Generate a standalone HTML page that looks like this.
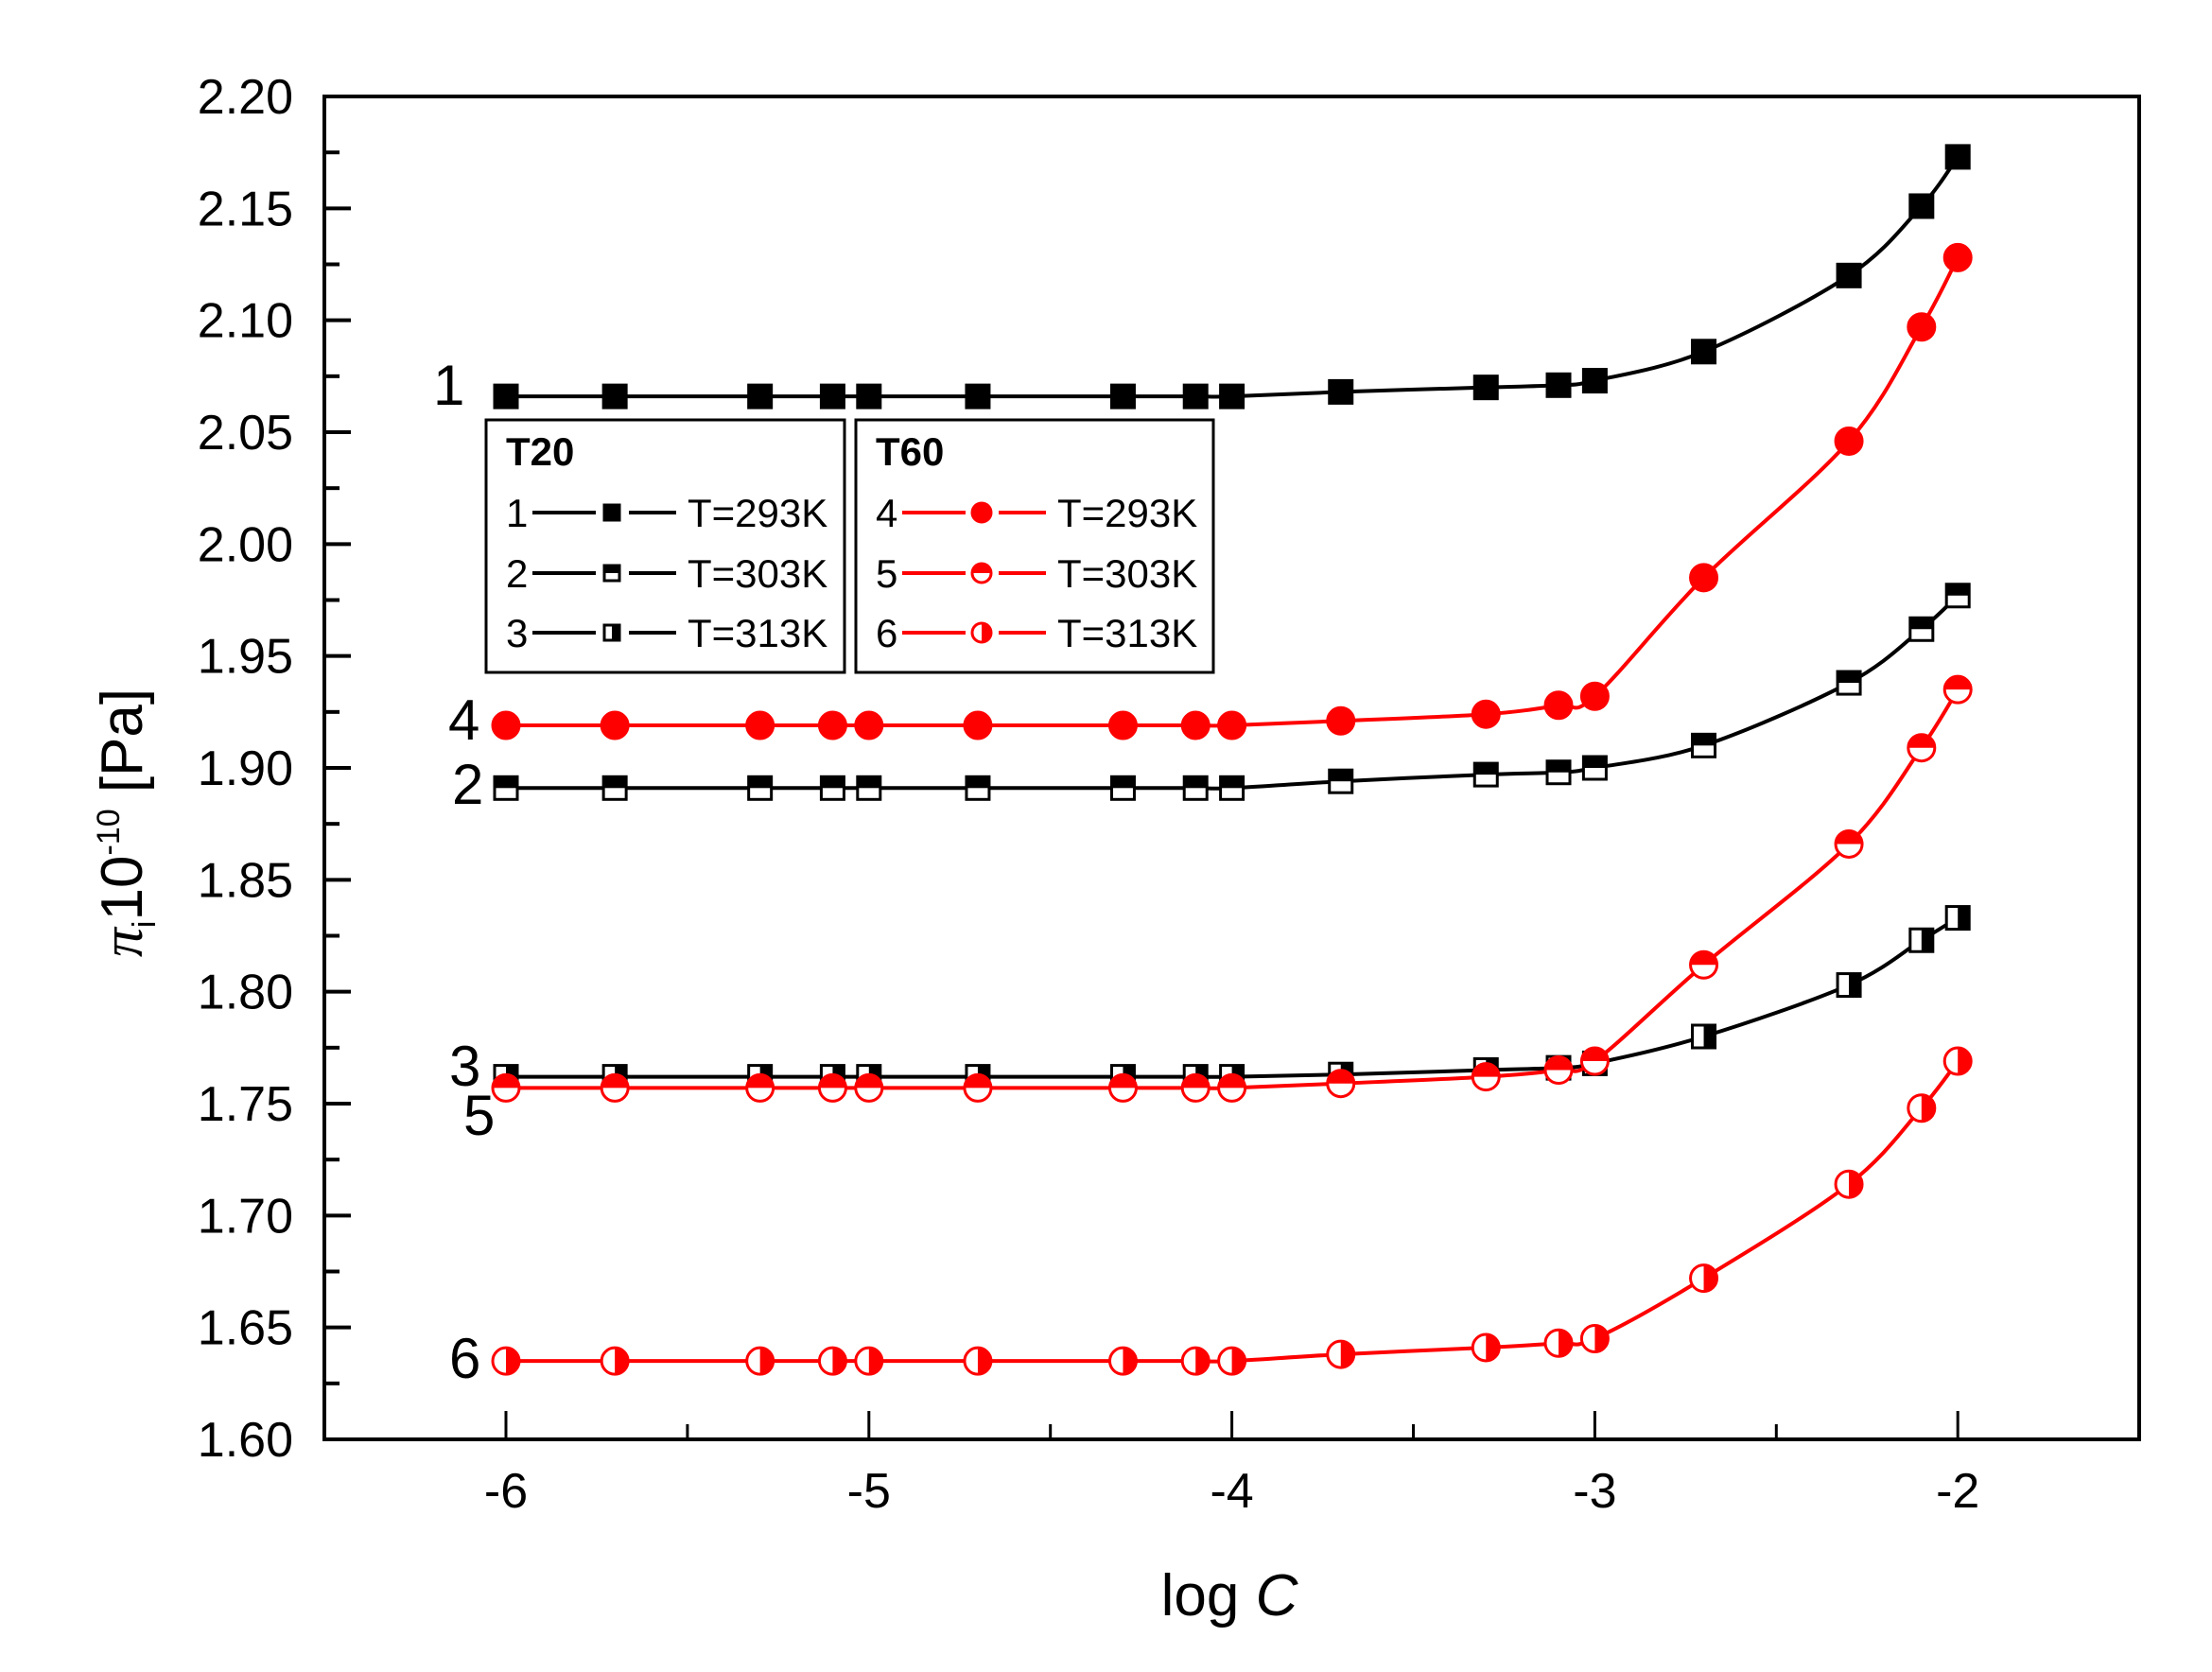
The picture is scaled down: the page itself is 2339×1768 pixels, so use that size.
<!DOCTYPE html>
<html><head><meta charset="utf-8"><style>
html,body{margin:0;padding:0;background:#fff;}
svg{display:block;font-family:"Liberation Sans",sans-serif;}
</style></head><body>
<svg id="s" width="2339" height="1768" xmlns="http://www.w3.org/2000/svg">
<rect width="2339" height="1768" fill="#fff"/>
<g id="ax"></g>
<g id="data"></g>
<!-- legend -->
<rect x="514" y="444" width="379" height="267" fill="#fff" stroke="#000" stroke-width="3"/>
<rect x="905" y="444" width="378" height="267" fill="#fff" stroke="#000" stroke-width="3"/>
<g font-size="42" fill="#000">
<text x="535" y="492" font-weight="bold">T20</text>
<text x="926" y="492" font-weight="bold">T60</text>
</g>
<g id="leg"></g>
<!-- curve labels -->
<g font-size="60" fill="#000">
<text x="458" y="428">1</text>
<text x="474" y="782">4</text>
<text x="478" y="850">2</text>
<text x="475" y="1148">3</text>
<text x="490" y="1200">5</text>
<text x="475" y="1457">6</text>
</g>
<text x="1300" y="1708" font-size="62" text-anchor="middle">log <tspan font-style="italic">C</tspan></text>
<text transform="translate(150,870) rotate(-90)" font-size="62" text-anchor="middle"><tspan font-family="Liberation Serif" font-style="italic">π</tspan><tspan font-size="34" dy="14">i</tspan><tspan dy="-14">10</tspan><tspan font-size="34" dy="-24">-10</tspan><tspan dy="24"> [Pa]</tspan></text>
</svg>
<script>
const NS="http://www.w3.org/2000/svg";
const L=343,R=2262,T=102,B=1522;
const X=v=>535+(v+6)*383.8, Y=v=>B-(v-1.6)/0.6*(B-T);
function el(p,t,a){const e=document.createElementNS(NS,t);for(const k in a)e.setAttribute(k,a[k]);p.appendChild(e);return e;}
const ax=document.getElementById('ax');
el(ax,'rect',{x:L,y:T,width:R-L,height:B-T,fill:'none',stroke:'#000','stroke-width':4});
for(let i=0;i<=24;i++){const v=1.6+i*0.025,y=Y(v);const maj=i%2==0;
 el(ax,'line',{x1:L,x2:L+(maj?28:16),y1:y,y2:y,stroke:'#000','stroke-width':4});
 if(maj){const t=el(ax,'text',{x:310,y:y+18,'font-size':52,'text-anchor':'end'});t.textContent=v.toFixed(2);}}
for(let i=0;i<=9;i++){const v=-6.5+i*0.5,x=X(v);const maj=i%2==1;
 el(ax,'line',{x1:x,x2:x,y1:B,y2:B-(maj?30:16),stroke:'#000','stroke-width':3});
 if(maj){const t=el(ax,'text',{x:x,y:1594,'font-size':52,'text-anchor':'middle'});t.textContent=String(Math.round(v)).replace('-','-');}}
const xs=[-6,-5.7,-5.3,-5.1,-5,-4.7,-4.3,-4.1,-4,-3.7,-3.3,-3.1,-3,-2.7,-2.3,-2.1,-2];
function S(base,tail){return xs.map((x,i)=>i<9?base:tail[i-9]);}
const ser=[
 {c:'#000',m:'sq',f:'full',d:S(2.066,[2.068,2.070,2.071,2.073,2.086,2.120,2.151,2.173])},
 {c:'#000',m:'sq',f:'top',d:S(1.891,[1.894,1.897,1.898,1.900,1.910,1.938,1.962,1.977])},
 {c:'#000',m:'sq',f:'right',d:S(1.762,[1.763,1.765,1.766,1.768,1.780,1.803,1.823,1.833])},
 {c:'#f00',m:'ci',f:'full',d:S(1.919,[1.921,1.924,1.928,1.932,1.985,2.046,2.097,2.128])},
 {c:'#f00',m:'ci',f:'top',d:S(1.757,[1.759,1.762,1.765,1.769,1.812,1.866,1.909,1.935])},
 {c:'#f00',m:'ci',f:'right',d:S(1.635,[1.638,1.641,1.643,1.645,1.672,1.714,1.748,1.769])}];
function marker(g,x,y,s,r){
 if(s.m=='sq'){el(g,'rect',{x:x-r,y:y-r,width:2*r,height:2*r,fill:'#fff',stroke:s.c,'stroke-width':3});
  if(s.f=='full')el(g,'rect',{x:x-r,y:y-r,width:2*r,height:2*r,fill:s.c});
  if(s.f=='top')el(g,'rect',{x:x-r,y:y-r,width:2*r,height:r,fill:s.c});
  if(s.f=='right')el(g,'rect',{x:x,y:y-r,width:r,height:2*r,fill:s.c});}
 else{el(g,'circle',{cx:x,cy:y,r:r,fill:'#fff',stroke:s.c,'stroke-width':3});
  if(s.f=='full')el(g,'circle',{cx:x,cy:y,r:r,fill:s.c});
  if(s.f=='top')el(g,'path',{d:`M${x-r},${y}A${r},${r} 0 0 1 ${x+r},${y}Z`,fill:s.c});
  if(s.f=='right')el(g,'path',{d:`M${x},${y-r}A${r},${r} 0 0 1 ${x},${y+r}Z`,fill:s.c});}}
const dg=document.getElementById('data');
ser.forEach(s=>{const P=xs.map((x,i)=>[X(x),Y(s.d[i])]);
 let d=`M${P[0][0]},${P[0][1]}`;
 for(let i=0;i<P.length-1;i++){const p0=P[Math.max(0,i-1)],p1=P[i],p2=P[i+1],p3=P[Math.min(P.length-1,i+2)];
  const c1=[p1[0]+(p2[0]-p0[0])/6,p1[1]+(p2[1]-p0[1])/6],c2=[p2[0]-(p3[0]-p1[0])/6,p2[1]-(p3[1]-p1[1])/6];
  d+=`C${c1[0]},${c1[1]} ${c2[0]},${c2[1]} ${p2[0]},${p2[1]}`;}
 el(dg,'path',{d:d,fill:'none',stroke:s.c,'stroke-width':4});
 P.forEach(p=>marker(dg,p[0],p[1],s,s.m=='sq'?12:14));});
const lg=document.getElementById('leg');
const rows=[542,606,669];
[[0,535],[1,535],[2,535]].forEach(([i,x0],k)=>{const s=ser[i],y=rows[k];
 const t=el(lg,'text',{x:x0,y:y+15,'font-size':42});t.textContent=String(i+1);
 el(lg,'line',{x1:x0+28,x2:x0+95,y1:y,y2:y,stroke:s.c,'stroke-width':4});
 el(lg,'line',{x1:x0+130,x2:x0+180,y1:y,y2:y,stroke:s.c,'stroke-width':4});
 marker(lg,x0+112,y,s,8);
 const t2=el(lg,'text',{x:x0+192,y:y+15,'font-size':42});t2.textContent=['T=293K','T=303K','T=313K'][k];});
[3,4,5].forEach((i,k)=>{const s=ser[i],y=rows[k],x0=926;
 const t=el(lg,'text',{x:x0,y:y+15,'font-size':42});t.textContent=String(i+1);
 el(lg,'line',{x1:x0+28,x2:x0+95,y1:y,y2:y,stroke:s.c,'stroke-width':4});
 el(lg,'line',{x1:x0+130,x2:x0+180,y1:y,y2:y,stroke:s.c,'stroke-width':4});
 marker(lg,x0+112,y,s,10);
 const t2=el(lg,'text',{x:x0+192,y:y+15,'font-size':42});t2.textContent=['T=293K','T=303K','T=313K'][k];});
</script>
</body></html>
